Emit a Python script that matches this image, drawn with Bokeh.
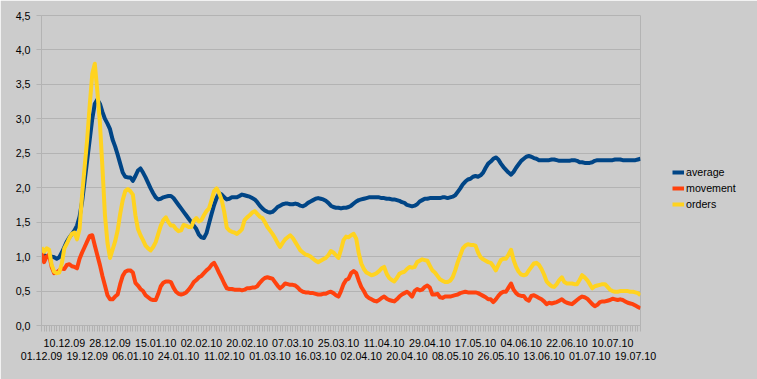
from bokeh.plotting import figure
from bokeh.models import (Range1d, FixedTicker, LinearAxis, CustomJSTickFormatter,
                          Legend, LegendItem, ColumnDataSource)
from bokeh.embed import file_html
from bokeh.resources import INLINE

# Visible category labels (every 9th category), staggered in two rows
tick_labels = ["01.12.09", "10.12.09", "19.12.09", "28.12.09", "06.01.10", "15.01.10",
               "24.01.10", "02.02.10", "11.02.10", "20.02.10", "01.03.10", "07.03.10",
               "16.03.10", "25.03.10", "02.04.10", "11.04.10", "20.04.10", "29.04.10",
               "08.05.10", "17.05.10", "26.05.10", "04.06.10", "13.06.10", "22.06.10",
               "01.07.10", "10.07.10", "19.07.10"]
label_step = 9

average = [
    1.04, 1.02, 1.00, 1.00, 1.00, 0.99, 0.97, 0.99, 1.06, 1.14,
    1.22, 1.28, 1.33, 1.38, 1.45, 1.58, 1.80, 2.10, 2.40, 2.70,
    3.00, 3.22, 3.28, 3.22, 3.10, 3.00, 2.93, 2.85, 2.70, 2.60,
    2.48, 2.35, 2.22, 2.16, 2.15, 2.15, 2.10, 2.17, 2.25, 2.28,
    2.22, 2.15, 2.07, 1.99, 1.92, 1.86, 1.83, 1.84, 1.86, 1.87,
    1.88, 1.88, 1.85, 1.80, 1.75, 1.70, 1.65, 1.60, 1.55, 1.50,
    1.45, 1.40, 1.32, 1.28, 1.27, 1.34, 1.48, 1.62, 1.75, 1.85,
    1.92, 1.90, 1.86, 1.83, 1.84, 1.86, 1.86, 1.86, 1.88, 1.90,
    1.89, 1.88, 1.87, 1.85, 1.83, 1.79, 1.74, 1.70, 1.67, 1.65,
    1.64, 1.65, 1.68, 1.72, 1.74, 1.76, 1.77, 1.77, 1.76, 1.76,
    1.77, 1.76, 1.74, 1.73, 1.75, 1.78, 1.80, 1.82, 1.84, 1.85,
    1.84, 1.83, 1.81, 1.78, 1.74, 1.72, 1.71, 1.71, 1.70, 1.71,
    1.71, 1.72, 1.74, 1.77, 1.80, 1.82, 1.83, 1.84, 1.85, 1.86,
    1.86, 1.86, 1.86, 1.86, 1.85, 1.85, 1.84, 1.84, 1.83, 1.83,
    1.82, 1.81, 1.79, 1.78, 1.75, 1.74, 1.73, 1.74, 1.76, 1.80,
    1.82, 1.84, 1.84, 1.85, 1.85, 1.85, 1.85, 1.85, 1.86, 1.86,
    1.85, 1.86, 1.87, 1.89, 1.94, 1.99, 2.05, 2.09, 2.12, 2.13,
    2.16, 2.17, 2.16, 2.18, 2.22, 2.29, 2.35, 2.38, 2.42, 2.44,
    2.41, 2.35, 2.30, 2.26, 2.22, 2.19, 2.23, 2.29, 2.34, 2.39,
    2.42, 2.45, 2.46, 2.45, 2.43, 2.42, 2.40, 2.40, 2.40, 2.40,
    2.40, 2.41, 2.41, 2.40, 2.39, 2.39, 2.39, 2.39, 2.39, 2.40,
    2.40, 2.39, 2.37, 2.37, 2.36, 2.36, 2.36, 2.37, 2.39, 2.40,
    2.40, 2.40, 2.40, 2.40, 2.40, 2.40, 2.41, 2.41, 2.41, 2.40,
    2.40, 2.40, 2.40, 2.40, 2.40, 2.41, 2.42]

movement = [
    1.08, 0.92, 1.00, 1.03, 0.85, 0.76, 0.77, 0.80, 0.83, 0.82,
    0.88, 0.89, 0.86, 0.85, 0.83, 0.97, 1.06, 1.14, 1.22, 1.30,
    1.31, 1.16, 1.02, 0.88, 0.72, 0.58, 0.44, 0.38, 0.38, 0.42,
    0.45, 0.60, 0.72, 0.78, 0.80, 0.80, 0.77, 0.62, 0.58, 0.53,
    0.50, 0.44, 0.41, 0.38, 0.37, 0.37, 0.46, 0.57, 0.62, 0.64,
    0.64, 0.63, 0.55, 0.49, 0.46, 0.45, 0.46, 0.48, 0.52, 0.57,
    0.63, 0.66, 0.70, 0.72, 0.76, 0.80, 0.83, 0.88, 0.91, 0.84,
    0.76, 0.69, 0.61, 0.54, 0.53, 0.53, 0.52, 0.52, 0.52, 0.51,
    0.52, 0.54, 0.54, 0.55, 0.55, 0.57, 0.62, 0.66, 0.69, 0.70,
    0.69, 0.68, 0.63, 0.58, 0.54, 0.57, 0.61, 0.60, 0.59, 0.59,
    0.58, 0.55, 0.51, 0.49, 0.48, 0.48, 0.47, 0.47, 0.46, 0.45,
    0.45, 0.46, 0.46, 0.48, 0.49, 0.47, 0.44, 0.42, 0.50, 0.60,
    0.66, 0.68, 0.76, 0.79, 0.76, 0.65, 0.56, 0.50, 0.43, 0.40,
    0.38, 0.36, 0.35, 0.37, 0.40, 0.42, 0.39, 0.37, 0.36, 0.35,
    0.38, 0.42, 0.45, 0.47, 0.49, 0.46, 0.42, 0.50, 0.53, 0.51,
    0.52, 0.56, 0.58, 0.55, 0.45, 0.45, 0.46, 0.41, 0.40, 0.42,
    0.42, 0.42, 0.43, 0.44, 0.45, 0.47, 0.48, 0.49, 0.48, 0.48,
    0.48, 0.48, 0.47, 0.45, 0.43, 0.41, 0.38, 0.38, 0.34, 0.38,
    0.43, 0.47, 0.49, 0.49, 0.55, 0.61, 0.52, 0.47, 0.44, 0.43,
    0.43, 0.38, 0.36, 0.43, 0.44, 0.42, 0.40, 0.38, 0.35, 0.31,
    0.33, 0.32, 0.33, 0.34, 0.36, 0.38, 0.35, 0.33, 0.32, 0.31,
    0.34, 0.37, 0.40, 0.42, 0.41, 0.39, 0.35, 0.31, 0.28, 0.30,
    0.34, 0.35, 0.35, 0.36, 0.37, 0.39, 0.38, 0.37, 0.38, 0.37,
    0.35, 0.33, 0.32, 0.31, 0.29, 0.27, 0.25]

orders = [
    1.13, 1.07, 1.12, 1.10, 0.88, 0.78, 0.76, 0.77, 0.90, 1.12,
    1.19, 1.27, 1.33, 1.35, 1.25, 1.40, 1.90, 2.30, 2.70, 3.20,
    3.65, 3.80, 3.40, 2.95, 2.30, 1.60, 1.20, 0.98, 1.10, 1.22,
    1.38, 1.62, 1.82, 1.95, 1.98, 1.95, 1.90, 1.60, 1.40, 1.31,
    1.24, 1.16, 1.12, 1.09, 1.14, 1.21, 1.33, 1.45, 1.53, 1.57,
    1.50, 1.45, 1.45, 1.40, 1.37, 1.38, 1.46, 1.45, 1.43, 1.43,
    1.52, 1.56, 1.51, 1.53, 1.60, 1.66, 1.70, 1.82, 1.95, 1.99,
    1.92, 1.82, 1.65, 1.42, 1.38, 1.36, 1.35, 1.33, 1.36, 1.40,
    1.53, 1.57, 1.60, 1.64, 1.66, 1.62, 1.58, 1.56, 1.50, 1.43,
    1.38, 1.33, 1.27, 1.20, 1.14, 1.20, 1.25, 1.28, 1.31, 1.27,
    1.21, 1.15, 1.09, 1.06, 1.03, 1.02, 1.00, 0.97, 0.94, 0.92,
    0.94, 0.96, 0.98, 1.02, 1.08, 1.06, 1.02, 0.98, 1.10, 1.24,
    1.29, 1.28, 1.31, 1.33, 1.26, 1.05, 0.90, 0.82, 0.77, 0.75,
    0.73, 0.74, 0.76, 0.79, 0.83, 0.85, 0.75, 0.69, 0.66, 0.64,
    0.69, 0.75, 0.77, 0.78, 0.82, 0.85, 0.84, 0.85, 0.92, 0.94,
    0.96, 0.95, 0.94, 0.87, 0.80, 0.77, 0.72, 0.67, 0.65, 0.63,
    0.63, 0.65, 0.70, 0.80, 0.92, 1.02, 1.12, 1.16, 1.18, 1.17,
    1.17, 1.16, 1.06, 0.99, 0.96, 0.94, 0.92, 0.91, 0.86, 0.80,
    0.88, 0.95, 0.97, 0.97, 1.03, 1.10, 0.95, 0.85, 0.78, 0.74,
    0.73, 0.74, 0.80, 0.85, 0.90, 0.91, 0.88, 0.82, 0.74, 0.64,
    0.60, 0.57, 0.56, 0.60, 0.66, 0.70, 0.63, 0.61, 0.61, 0.61,
    0.60, 0.60, 0.66, 0.73, 0.70, 0.66, 0.60, 0.54, 0.57, 0.58,
    0.59, 0.60, 0.60, 0.56, 0.52, 0.50, 0.49, 0.49, 0.50, 0.50,
    0.50, 0.50, 0.49, 0.49, 0.48, 0.47, 0.44]

series_names = ["average", "movement", "orders"]
series_colors = ["#004586", "#ff420e", "#ffd320"]
y_ticks = [0.0, 0.5, 1.0, 1.5, 2.0, 2.5, 3.0, 3.5, 4.0, 4.5]

n = len(average)
cats = list(range(n))
src = ColumnDataSource(dict(x=cats, average=average, movement=movement, orders=orders))

FONT = "Liberation Sans"
GRID = "#b3b3b3"
BG = "#cccccc"

p = figure(frame_width=599, frame_height=310, output_backend="svg", toolbar_location=None,
           x_range=Range1d(0, n - 1), y_range=Range1d(0, 4.5),
           background_fill_color=BG, border_fill_color=BG,
           min_border_left=41, min_border_right=117, min_border_top=15, min_border_bottom=54)
p.outline_line_color = GRID
p.xgrid.visible = False
p.ygrid.grid_line_color = GRID
p.ygrid.ticker = FixedTicker(ticks=y_ticks)

renderers = []
for name, col in zip(series_names, series_colors):
    r = p.line("x", name, source=src, line_color=col, line_width=4, line_join="round")
    renderers.append(r)

# y axis
ya = p.yaxis[0]
ya.ticker = FixedTicker(ticks=y_ticks)
ya.formatter = CustomJSTickFormatter(code="return tick.toFixed(1).replace('.', ',');")
ya.axis_line_color = GRID
ya.major_tick_line_color = GRID
ya.major_tick_out = 5
ya.major_tick_in = 0
ya.minor_tick_line_color = None
ya.major_label_standoff = 6
ya.major_label_text_font = FONT
ya.major_label_text_font_size = "8pt"
ya.major_label_text_color = "black"

# x axis: top row of labels + category ticks
top_ticks = [k * label_step for k in range(len(tick_labels)) if k % 2 == 1]
bot_ticks = [k * label_step for k in range(len(tick_labels)) if k % 2 == 0]
lab_map = {k * label_step: lab for k, lab in enumerate(tick_labels)}

xa = p.xaxis[0]
xa.ticker = FixedTicker(ticks=top_ticks, minor_ticks=cats)
xa.major_label_overrides = {t: lab_map[t] for t in top_ticks}
xa.axis_line_color = GRID
xa.major_tick_line_color = GRID
xa.minor_tick_line_color = GRID
xa.major_tick_out = 6
xa.minor_tick_out = 6
xa.major_tick_in = 0
xa.minor_tick_in = 0
xa.major_label_standoff = 7
xa.major_label_text_font = FONT
xa.major_label_text_font_size = "8pt"
xa.major_label_text_color = "black"

# second row of labels
xb = LinearAxis(ticker=FixedTicker(ticks=bot_ticks, minor_ticks=[]),
                major_label_overrides={t: lab_map[t] for t in bot_ticks})
xb.axis_line_color = None
xb.major_tick_line_color = None
xb.minor_tick_line_color = None
xb.major_tick_out = 0
xb.major_tick_in = 0
xb.minor_tick_out = 0
xb.major_label_standoff = 2
xb.major_label_text_font = FONT
xb.major_label_text_font_size = "8pt"
xb.major_label_text_color = "black"
p.add_layout(xb, "below")

legend = Legend(items=[LegendItem(label=nm, renderers=[r]) for nm, r in zip(series_names, renderers)],
                location=(32, 113))
legend.background_fill_alpha = 0
legend.border_line_color = None
legend.label_text_font = FONT
legend.label_text_font_size = "8pt"
legend.label_text_color = "black"
legend.glyph_width = 12
legend.glyph_height = 16
legend.label_height = 16
legend.label_standoff = 2
legend.spacing = 0
legend.padding = 0
legend.margin = 0
p.add_layout(legend, "right")

open("out.html", "w").write(file_html(p, INLINE))
